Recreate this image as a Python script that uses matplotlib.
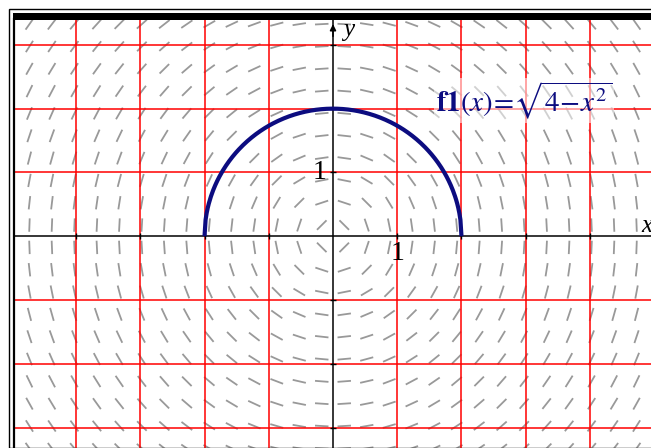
import numpy as np
from matplotlib import pyplot as plt
from matplotlib.collections import LineCollection
from matplotlib.lines import Line2D
from matplotlib.patches import Rectangle

# window (graph units)
x_min, x_max = -4.95, 4.95
y_min, y_max = -3.32, 3.39

# red grid at integer positions
grid_x = [-4, -3, -2, -1, 1, 2, 3, 4]
grid_y = [-3, -2, -1, 1, 2, 3]

# slope field for dy/dx = -x/y, sample points every 0.35 with half-step offset
field_step = 0.35
field_cols = np.arange(-13.5, 14.5) * field_step
field_rows = np.arange(-9.5, 10.5) * field_step
seg_len = 0.21

# f1(x) = sqrt(4 - x^2)
curve_x = np.linspace(-2, 2, 241)
curve_y = np.sqrt(np.clip(4 - curve_x**2, 0, None))

plt.rcParams['mathtext.fontset'] = 'stix'

fig = plt.figure(figsize=(6.51, 4.48), dpi=100)
W, H = 651, 448
ax = fig.add_axes([15 / W, 0, 1 - 15 / W, 1 - 20 / H])
ax.set_xlim(x_min, x_max)
ax.set_ylim(y_min, y_max)
ax.axis('off')

# slope field segments
segs = []
for xc in field_cols:
    for yc in field_rows:
        dx, dy = yc, -xc
        n = np.hypot(dx, dy)
        dx, dy = dx / n * seg_len / 2, dy / n * seg_len / 2
        segs.append([(xc - dx, yc - dy), (xc + dx, yc + dy)])
ax.add_collection(LineCollection(segs, colors='#999999', linewidths=1.3, zorder=1))

for gx in grid_x:
    ax.axvline(gx, color='#ff0000', lw=1.1, zorder=2)
for gy in grid_y:
    ax.axhline(gy, color='#ff0000', lw=1.1, zorder=2)

# axes through the origin
ax.axhline(0, color='black', lw=1.1, zorder=3)
ax.axvline(0, color='black', lw=1.1, zorder=3)
ax.annotate('', xy=(0, y_max - 0.02), xytext=(0, y_max - 0.3),
            arrowprops=dict(arrowstyle='-|>', color='black', lw=1.1,
                            mutation_scale=9), zorder=4)
ax.annotate('', xy=(x_max + 0.02, 0), xytext=(x_max - 0.3, 0),
            arrowprops=dict(arrowstyle='-|>', color='black', lw=1.1,
                            mutation_scale=9), zorder=4)
ax.plot(grid_x, [0] * len(grid_x), ls='None', marker='|',
        ms=4, color='black', zorder=4)
ax.plot([0] * len(grid_y), grid_y, ls='None', marker='_', ms=4,
        color='black', zorder=4)

serif = 'Liberation Serif'
ax.text(0.24, y_max - 0.16, 'y', fontsize=18, family=serif,
        style='italic', va='center', ha='center', zorder=5)
ax.text(x_max - 0.07, 0.16, 'x', fontsize=18, family=serif,
        style='italic', va='center', ha='center', zorder=5)
ax.text(1, -0.08, '1', fontsize=20, family=serif, va='top',
        ha='center', zorder=5)
ax.text(-0.1, 1, '1', fontsize=20, family=serif, va='center',
        ha='right', zorder=5)

ax.plot(curve_x, curve_y, color='#0c0c80', lw=3, zorder=6,
        solid_capstyle='butt')

ax.text(1.6, 1.95,
        r'$\mathbf{f1}\left(x\right)\!=\!\sqrt{4\!-\!x^2}$',
        fontsize=21, color='#0c0c80', va='baseline', ha='left', zorder=7,
        bbox=dict(facecolor='white', edgecolor='none', alpha=0.55, pad=1))

# outer frame (top bar and left edge)
fig.add_artist(Rectangle((9 / W, 0), W, 1 - 9.5 / H, transform=fig.transFigure,
                         fill=False, edgecolor='black', lw=1.0))
fig.add_artist(Rectangle((13 / W, 1 - 20 / H), 1, 7 / H, transform=fig.transFigure,
                         facecolor='black', edgecolor='none'))
fig.add_artist(Line2D([14 / W, 14 / W], [0, 1 - 19 / H], transform=fig.transFigure,
                      color='black', lw=1.6))

fig.savefig('out.png', dpi=100)
